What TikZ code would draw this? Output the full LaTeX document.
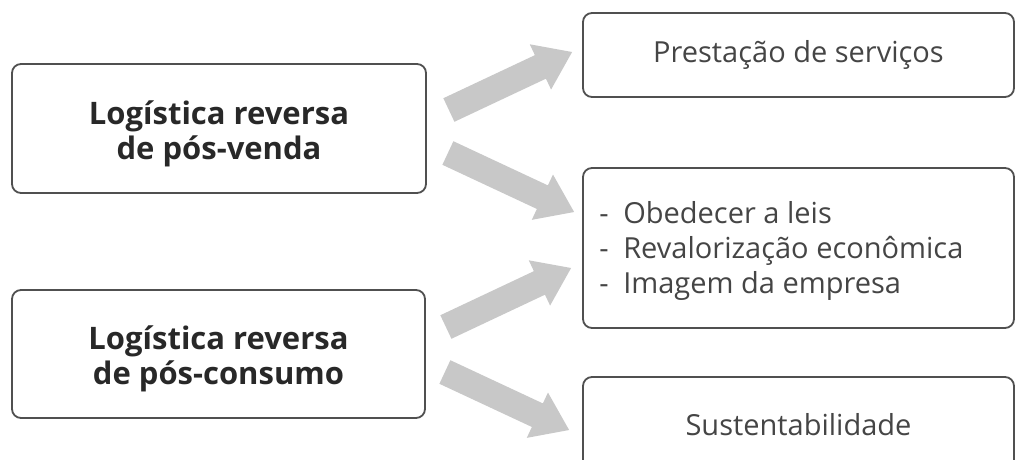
\documentclass[tikz,border=0pt]{standalone}
\usepackage{fontspec}
\setmainfont{Open Sans}
\usetikzlibrary{calc}
\definecolor{boxline}{HTML}{505050}
\definecolor{arrowgray}{HTML}{C8C8C8}
\definecolor{txtdark}{HTML}{282828}
\definecolor{txtreg}{HTML}{454545}
\newcommand{\blockarrow}[2]{%
  \coordinate (#1b) at ($(#2)!35pt!(#1)$);
  \fill[arrowgray] ($(#1)!13pt!90:(#2)$) -- ($(#1b)!13pt!90:(#2)$) -- ($(#1b)!25pt!90:(#2)$) -- (#2)
    -- ($(#1b)!25pt!-90:(#2)$) -- ($(#1b)!13pt!-90:(#2)$) -- ($(#1)!13pt!-90:(#2)$) -- cycle;
}
\newcommand{\dashitem}[1]{\makebox[24pt][l]{-}#1}
\begin{document}
\begin{tikzpicture}[x=1pt,y=-1pt,
  box/.style={draw=boxline, line width=1.8pt, rounded corners=9pt, fill=white, inner sep=0pt},
  boldtxt/.style={font=\fontsize{31}{35}\selectfont\bfseries, text=txtdark, align=center},
  regtxt/.style={font=\fontsize{29}{35}\selectfont, text=txtreg}]
\useasboundingbox (0,0) rectangle (1015,459);
\fill[white] (0,0) rectangle (1015,459);

\node[box, minimum width=414pt, minimum height=129pt] (A) at (219,128.5) {};
\node[boldtxt] (At) at ($(A.center)+(0,5)$) {Logística reversa\\de pós-venda};
\node[box, minimum width=413pt, minimum height=128pt] (B) at (218.5,354) {};
\node[boldtxt] (Bt) at ($(B.center)+(0,5)$) {Logística reversa\\de pós-consumo};

\node[box, regtxt, minimum width=431pt, minimum height=84pt] (P) at (798.5,55) {Prestação de serviços};
\node[box, minimum width=431pt, minimum height=160pt] (M) at (798.5,248) {};
\node[regtxt, align=left, anchor=west, inner sep=0pt] (Mt) at ($(M.west)+(17,3)$)
  {\dashitem{Obedecer a leis}\\\dashitem{Revalorização econômica}\\\dashitem{Imagem da empresa}};
\node[box, regtxt, minimum width=431pt, minimum height=96pt] (S) at (798.5,425) {Sustentabilidade};

\coordinate (a1) at ($(A.east)+(22,-18.5)$);
\coordinate (t1) at ($(P.west)+(-10,-3)$);
\coordinate (a2) at ($(A.east)+(21,24.5)$);
\coordinate (t2) at ($(M.west)+(-8,-36)$);
\coordinate (a3) at ($(B.east)+(20,-27)$);
\coordinate (t3) at ($(M.west)+(-11,20)$);
\coordinate (a4) at ($(B.east)+(19,18)$);
\coordinate (t4) at ($(S.west)+(-13,5)$);

\blockarrow{a1}{t1}
\blockarrow{a2}{t2}
\blockarrow{a3}{t3}
\blockarrow{a4}{t4}
\end{tikzpicture}
\end{document}
